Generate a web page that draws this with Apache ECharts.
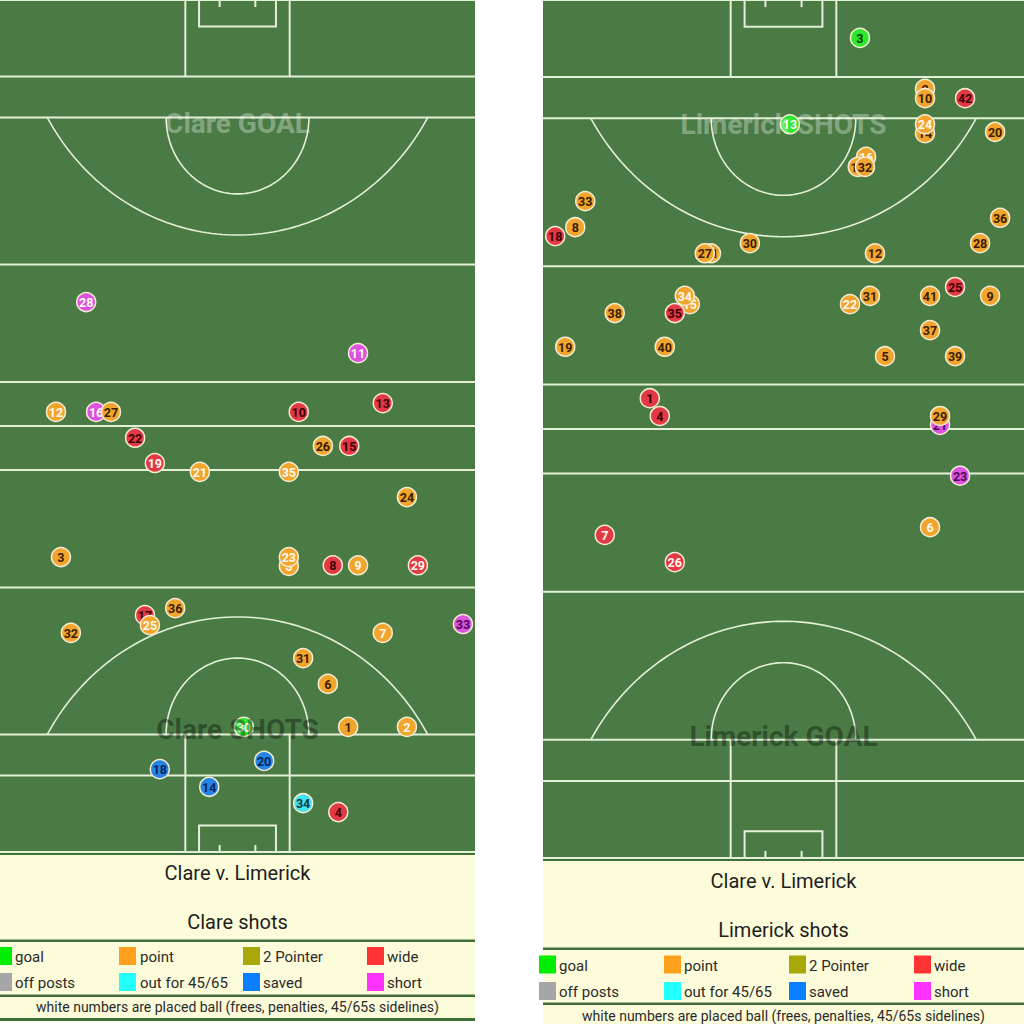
<!DOCTYPE html>
<html><head><meta charset="utf-8">
<script src="https://cdn.jsdelivr.net/npm/echarts@6/dist/echarts.min.js"></script>
<style>html,body{margin:0;padding:0;background:#fff;}#c{width:1024px;height:1024px;}</style>
</head><body><div id="c"></div>
<script>
// ---------- legend / outcome categories ----------
const outcomeNames = ['goal','point','2 Pointer','wide','off posts','out for 45/65','saved','short'];
const legendColors = ['#00ee00','#ffa01c','#a9a80a','#ff3333','#a6a6a6','#22ffff','#0a7fff','#ff33ff'];
const markerColors = ['#2ee82e','#f2a52c','#a9a80a','#e23a44','#a6a6a6','#44e4ee','#2684e4','#de52e0'];
const markerDarkText = ['#0b3d0b','#3a1c00','#333300','#3d0008','#222','#0b3d45','#06265a','#4b0a55'];

// ---------- Clare shots (metres: x across pitch 0..86.5, y from top end line 0..145) ----------
const clareNo = [1,2,3,4,5,6,7,8,9,10,11,12,13,14,15,16,17,18,19,20,21,22,23,24,25,26,27,28,29,30,31,32,33,34,35,36];
const clareX = [63.4,74.1,11.1,61.6,52.6,59.7,69.7,60.6,65.2,54.4,65.2,10.2,69.7,38.1,63.6,17.5,26.4,29.1,28.2,48.1,36.4,24.6,52.6,74.1,27.3,58.8,20.2,15.7,76.1,44.4,55.2,12.9,84.3,55.2,52.6,31.9];
const clareY = [123.7,123.7,94.8,138.2,96.3,116.4,107.7,96.2,96.2,70.1,60.1,70.1,68.6,133.9,75.9,70.1,104.7,130.9,78.8,129.5,80.3,74.5,94.8,84.6,106.4,75.9,70.1,51.4,96.2,123.7,112.0,107.7,106.2,136.7,80.3,103.5];
const clareOutcome = [1,1,1,3,1,1,1,3,1,3,7,1,3,6,3,7,3,6,3,6,1,3,1,1,1,1,1,7,3,0,1,1,7,5,1,1];
const clarePlaced = [0,1,0,0,1,0,1,0,1,0,1,1,0,0,0,1,0,0,1,0,1,0,1,0,1,0,0,1,1,1,0,0,0,0,1,0];

// ---------- Limerick shots ----------
const limNo = [1,2,3,4,5,6,7,8,9,10,11,12,13,14,15,16,17,18,19,20,21,22,23,24,25,26,27,28,29,30,31,32,33,34,35,36,37,38,39,40,41,42];
const limX = [19.2,68.7,57.0,21.0,61.5,69.6,11.1,5.8,80.4,68.7,30.2,59.7,44.4,68.7,26.4,58.1,56.6,2.2,4.0,81.3,71.4,55.2,75.0,68.7,74.1,23.7,29.1,78.6,71.4,37.2,58.8,57.9,7.6,25.5,23.7,82.2,69.6,12.9,74.1,21.9,69.6,75.9];
const limY = [67.3,15.0,6.4,70.3,60.2,89.1,90.4,38.4,50.0,16.6,42.8,42.8,21.0,22.5,51.4,26.5,28.2,39.9,58.6,22.3,71.8,51.4,80.4,21.0,48.5,95.0,42.8,41.1,70.3,41.1,50.0,28.2,34.0,50.0,52.9,36.8,55.8,52.9,60.2,58.6,50.0,16.6];
const limOutcome = [3,1,0,3,1,1,3,1,1,1,1,1,0,1,1,1,1,3,1,1,7,1,7,1,3,3,1,1,1,1,1,1,1,1,3,1,1,1,1,1,1,3];
const limPlaced = [0,0,0,0,0,1,1,0,0,0,0,0,1,0,1,1,0,0,0,0,0,1,0,1,0,1,0,0,0,0,0,0,0,1,0,0,0,0,0,0,0,0];

// ---------- pitch text ----------
const leftPitchTitles = ['Clare GOAL','Clare SHOTS'];
const rightPitchTitles = ['Limerick SHOTS','Limerick GOAL'];
const panelTitle = 'Clare v. Limerick';
const leftSubtitle = 'Clare shots';
const rightSubtitle = 'Limerick shots';
const noteText = 'white numbers are placed ball (frees, penalties, 45/65s sidelines)';

// ---------- pitch geometry (metres) ----------
const PW = 86.5, PL = 145, CX = PW / 2;
const crossLines = [0, 13, 20, 45, 65, 72.5, 80, 100, 125, 132, 145];
function arcPts(cx, cy, r, a0, a1, flip) {
  const pts = [];
  const n = 90;
  for (let k = 0; k <= n; k++) {
    const a = (a0 + (a1 - a0) * k / n) * Math.PI / 180;
    const y = r * Math.sin(a);
    pts.push([cx + r * Math.cos(a), flip ? PL - (cy + y) : cy + y]);
  }
  return pts;
}
function pitchStraight() {
  const L = crossLines.map(y => [[0, y], [PW, y]]);
  L.push([[CX - 9.5, 0], [CX - 9.5, 13]], [[CX + 9.5, 0], [CX + 9.5, 13]]);
  L.push([[CX - 7, 0], [CX - 7, 4.5], [CX + 7, 4.5], [CX + 7, 0]]);
  L.push([[CX - 3.25, 0], [CX - 3.25, 1.2]], [[CX + 3.25, 0], [CX + 3.25, 1.2]]);
  L.push([[CX - 9.5, PL], [CX - 9.5, PL - 20]], [[CX + 9.5, PL], [CX + 9.5, PL - 20]]);
  L.push([[CX - 7, PL], [CX - 7, PL - 4.5], [CX + 7, PL - 4.5], [CX + 7, PL]]);
  L.push([[CX - 3.25, PL], [CX - 3.25, PL - 1.2]], [[CX + 3.25, PL], [CX + 3.25, PL - 1.2]]);
  return L;
}
function pitchArcs() {
  return [
    arcPts(CX, 0, 40, 30, 150, false),
    arcPts(CX, 20, 13, 0, 180, false),
    arcPts(CX, 0, 40, 30, 150, true),
    arcPts(CX, 20, 13, 0, 180, true)
  ];
}

function pitchSeries(k) {
  return [
    {type: 'lines', coordinateSystem: 'cartesian2d', xAxisIndex: k, yAxisIndex: k, polyline: true, silent: true, z: 2,
     lineStyle: {color: '#e4efd8', width: 2, opacity: 1}, data: pitchStraight().map(c => ({coords: c}))},
    {type: 'lines', coordinateSystem: 'cartesian2d', xAxisIndex: k, yAxisIndex: k, polyline: true, silent: true, z: 2,
     lineStyle: {color: '#e4efd8', width: 1.6, opacity: 1}, data: pitchArcs().map(c => ({coords: c}))}
  ];
}

function shotSeries(k, N, X, Y, O, P) {
  return {
    type: 'custom', xAxisIndex: k, yAxisIndex: k, z: 5, silent: true,
    data: X.map((x, i) => [x, Y[i], i]),
    renderItem(params, api) {
      const i = api.value(2);
      const p = api.coord([api.value(0), api.value(1)]);
      const o = O[i];
      return {type: 'group', children: [
        {type: 'circle', z2: 2 * i, shape: {cx: p[0], cy: p[1], r: 9.5},
         style: {fill: markerColors[o], stroke: '#f4ecd2', lineWidth: 1.5}},
        {type: 'text', z2: 2 * i + 1,
         style: {text: String(N[i]), x: p[0], y: p[1] + 0.5, align: 'center', verticalAlign: 'middle',
                 fill: P[i] ? '#fffaf0' : markerDarkText[o], font: 'bold 12.5px Roboto'}}
      ]};
    }
  };
}

function titleSeries(k, txt, y, color) {
  return {type: 'scatter', xAxisIndex: k, yAxisIndex: k, z: 20, silent: true, symbolSize: 1,
    itemStyle: {color: 'transparent'},
    label: {show: true, position: 'inside', formatter: txt, fontSize: 28, fontWeight: 'bold',
            fontFamily: 'Roboto', color: color},
    data: [[CX, y]]};
}

// ---------- info panels ----------
function panel(x0, w, yTop, yBottom, lineYs, titleY, subY, sub, rowYs, sqX, txX, noteY) {
  const g = [];
  const cx = x0 + w / 2;
  g.push({type: 'rect', shape: {x: x0, y: yTop, width: w, height: yBottom - yTop}, style: {fill: '#fdfcda'}});
  lineYs.forEach(l => g.push({type: 'rect', shape: {x: x0, y: l[0], width: w, height: l[1]}, style: {fill: '#3f7139'}}));
  g.push({type: 'text', x: cx, y: titleY, style: {text: panelTitle, align: 'center', verticalAlign: 'middle', font: '20px Roboto', fill: '#1e1e1e'}});
  g.push({type: 'text', x: cx, y: subY, style: {text: sub, align: 'center', verticalAlign: 'middle', font: '20px Roboto', fill: '#1e1e1e'}});
  outcomeNames.forEach((name, i) => {
    const r = Math.floor(i / 4), c = i % 4;
    g.push({type: 'rect', shape: {x: sqX[c], y: rowYs[r] - 9, width: 17, height: 18}, style: {fill: legendColors[i]}});
    g.push({type: 'text', x: txX[c], y: rowYs[r] + 1, style: {text: name, align: 'left', verticalAlign: 'middle', font: '15px Roboto', fill: '#2a2a2a'}});
  });
  g.push({type: 'text', x: cx, y: noteY, style: {text: noteText, align: 'center', verticalAlign: 'middle', font: '14px Roboto', fill: '#2a2a2a'}});
  return g;
}

const graphics = [].concat(
  panel(0, 475, 852, 1021, [[851.5, 3.5], [939.5, 2.5], [994.5, 2.5], [1018, 3]], 873, 922, leftSubtitle,
        [956, 982], [-5, 119, 243, 367], [15, 140, 263, 387], 1007),
  panel(543, 481, 858, 1024, [[857.5, 3.5], [947.5, 2.5], [1002.5, 2.5]], 881, 930, rightSubtitle,
        [964.5, 991], [539, 664, 789, 914], [559, 684, 809, 934], 1016)
);

const axisX = k => ({type: 'value', gridIndex: k, min: 0, max: PW, show: false});
const axisY = k => ({type: 'value', gridIndex: k, min: 0, max: PL, inverse: true, show: false});

const chart = echarts.init(document.getElementById('c'), null, {renderer: 'svg', width: 1024, height: 1024});
chart.setOption({
  animation: false,
  backgroundColor: '#ffffff',
  textStyle: {fontFamily: 'Roboto'},
  grid: [
    {left: 0, top: 0, width: 475, height: 852, show: true, backgroundColor: '#4a7b45', borderWidth: 0},
    {left: 543, top: 0, width: 481, height: 858, show: true, backgroundColor: '#4a7b45', borderWidth: 0}
  ],
  xAxis: [axisX(0), axisX(1)],
  yAxis: [axisY(0), axisY(1)],
  graphic: graphics,
  series: [].concat(
    pitchSeries(0), pitchSeries(1),
    [shotSeries(0, clareNo, clareX, clareY, clareOutcome, clarePlaced),
     shotSeries(1, limNo, limX, limY, limOutcome, limPlaced),
     titleSeries(0, leftPitchTitles[0], 21.1, 'rgba(255,255,255,0.42)'),
     titleSeries(0, leftPitchTitles[1], 124.2, 'rgba(0,0,0,0.45)'),
     titleSeries(1, rightPitchTitles[0], 21.1, 'rgba(255,255,255,0.42)'),
     titleSeries(1, rightPitchTitles[1], 124.5, 'rgba(0,0,0,0.45)')]
  )
});
</script>
</body></html>
